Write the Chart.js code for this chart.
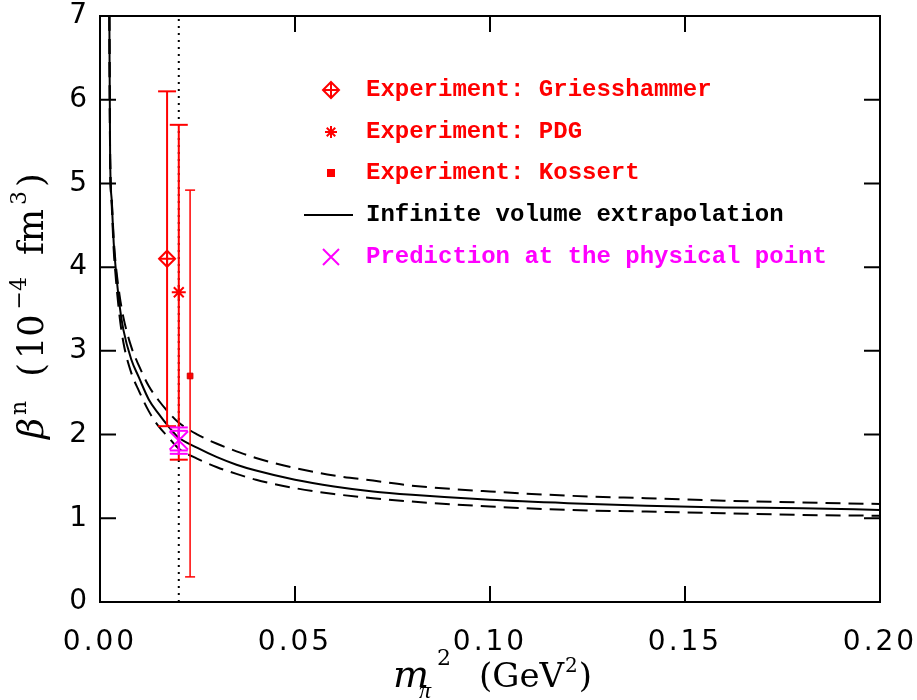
<!DOCTYPE html>
<html>
<head>
<meta charset="utf-8">
<script src="https://cdn.jsdelivr.net/npm/chart.js@4.4.1/dist/chart.umd.min.js"></script>
<style>
  html, body { margin: 0; padding: 0; background: #fff; }
</style>
</head>
<body>
<canvas id="chart" width="917" height="700"></canvas>
<script>
// points along the extrapolation curves, m_pi^2 in GeV^2
const curveX = [0.0024, 0.0026, 0.0030, 0.0035, 0.004, 0.005, 0.006, 0.008, 0.010, 0.0125, 0.015, 0.0175, 0.020,
  0.025, 0.030, 0.035, 0.040, 0.050, 0.060, 0.070, 0.080, 0.100, 0.120, 0.140, 0.160, 0.180, 0.200];
const central = [7.0, 5.3, 4.8, 4.3, 4.0, 3.55, 3.25, 2.9, 2.68, 2.42, 2.25, 2.1, 1.97,
  1.84, 1.73, 1.64, 1.57, 1.46, 1.38, 1.32, 1.28, 1.22, 1.18, 1.15, 1.13, 1.12, 1.10];
const upperBand = [7.0, 5.3, 4.82, 4.35, 4.05, 3.67, 3.4, 3.05, 2.82, 2.58, 2.41, 2.27, 2.15,
  2.0, 1.89, 1.8, 1.72, 1.6, 1.51, 1.45, 1.39, 1.32, 1.27, 1.24, 1.21, 1.19, 1.17];
const lowerBand = [7.0, 5.3, 4.75, 4.22, 3.9, 3.42, 3.1, 2.74, 2.52, 2.28, 2.1, 1.97, 1.84,
  1.71, 1.61, 1.53, 1.46, 1.36, 1.29, 1.24, 1.2, 1.14, 1.1, 1.08, 1.06, 1.04, 1.03];

const physPoint = 0.0202;

// experimental values: position, central value, error range
const expLabels = ['Experiment: Griesshammer', 'Experiment: PDG', 'Experiment: Kossert'];
const expX = [0.0172, 0.0202, 0.0231];
const expY = [4.1, 3.7, 2.7];
const expLo = [2.1, 1.7, 0.3];
const expHi = [6.1, 5.7, 4.92];

// lattice prediction at the physical point (two error ranges)
const predX = 0.0202;
const predY = 1.93;
const predOuter = [1.77, 2.085];
const predInner = [1.81, 2.045];

const fitLabel = 'Infinite volume extrapolation';
const predLabel = 'Prediction at the physical point';

const xTicks = [0, 0.05, 0.10, 0.15, 0.20];
const yTicks = [0, 1, 2, 3, 4, 5, 6, 7];

const RED = '#ff0000';
const MAG = '#ff00ff';

const pts = (xs, ys) => xs.map((x, i) => ({ x: x, y: ys[i] }));

function errBar(x, lo, hi, color, cap, width) {
  return {
    data: [{ x: x, y: lo }, { x: x, y: hi }],
    showLine: true,
    borderColor: color,
    borderWidth: width,
    pointStyle: 'line',
    pointRadius: cap,
    pointBorderColor: color,
    pointBorderWidth: width
  };
}

function curve(ys, dash) {
  return {
    data: pts(curveX, ys),
    showLine: true,
    borderColor: '#000',
    borderWidth: 2,
    borderDash: dash,
    pointRadius: 0,
    cubicInterpolationMode: 'monotone'
  };
}

const datasets = [
  // prediction (on top)
  { data: [{ x: predX, y: predY }], pointStyle: 'crossRot', pointRadius: 13, pointBorderColor: MAG, pointBorderWidth: 2 },
  errBar(predX, predInner[0], predInner[1], MAG, 9, 2),
  errBar(predX, predOuter[0], predOuter[1], MAG, 9, 2),
  // experiments
  { data: [{ x: expX[0], y: expY[0] }], pointStyle: 'cross', pointRadius: 8, pointBorderColor: RED, pointBorderWidth: 2 },
  { data: [{ x: expX[0], y: expY[0] }], pointStyle: 'rectRot', pointRadius: 8, pointBackgroundColor: 'rgba(0,0,0,0)', pointBorderColor: RED, pointBorderWidth: 2 },
  { data: [{ x: expX[1], y: expY[1] }], pointStyle: 'star', pointRadius: 7, pointBorderColor: RED, pointBorderWidth: 2 },
  { data: [{ x: expX[2], y: expY[2] }], pointStyle: 'rect', pointRadius: 4, pointBackgroundColor: RED, pointBorderColor: '#d00000', pointBorderWidth: 1 },
  errBar(expX[0], expLo[0], expHi[0], RED, 9, 2),
  errBar(expX[1], expLo[1], expHi[1], RED, 9, 2),
  errBar(expX[2], expLo[2], expHi[2], RED, 5, 1.5),
  // curves
  curve(central, []),
  curve(upperBand, [15, 8]),
  curve(lowerBand, [15, 8]),
  // physical pion mass
  {
    data: [{ x: physPoint, y: 0 }, { x: physPoint, y: 7 }],
    showLine: true, borderColor: '#000', borderWidth: 2, borderDash: [2, 5], pointRadius: 0
  }
];

// draws parts of a title one after another, centred on (cx, base)
function drawParts(ctx, parts, cx, base) {
  let total = 0;
  parts.forEach(p => { ctx.font = p.font; total += ctx.measureText(p.t).width + (p.gap || 0); });
  let x = cx - total / 2;
  parts.forEach(p => {
    ctx.font = p.font;
    ctx.fillText(p.t, x, base + (p.dy || 0));
    x += ctx.measureText(p.t).width + (p.gap || 0);
  });
}

const SERIF = '"DejaVu Serif"';

// wider spacing for the tick numbers
const spacingPlugin = {
  id: 'spacing',
  beforeDraw(chart) { chart.ctx.letterSpacing = '3px'; },
  afterDatasetsDraw(chart) { chart.ctx.letterSpacing = '0px'; }
};

const framePlugin = {
  id: 'frame',
  afterDraw(chart) {
    const { ctx, chartArea: a, scales } = chart;
    const xs = scales.x, ys = scales.y;
    ctx.save();
    ctx.letterSpacing = '0px';
    ctx.strokeStyle = '#000';
    ctx.lineWidth = 2;
    ctx.strokeRect(a.left, a.top, a.right - a.left, a.bottom - a.top);
    const tl = 16;
    ctx.beginPath();
    xTicks.forEach(v => {
      const px = xs.getPixelForValue(v);
      ctx.moveTo(px, a.bottom); ctx.lineTo(px, a.bottom - tl);
      ctx.moveTo(px, a.top); ctx.lineTo(px, a.top + tl);
    });
    yTicks.forEach(v => {
      const py = ys.getPixelForValue(v);
      ctx.moveTo(a.left, py); ctx.lineTo(a.left + tl, py);
      ctx.moveTo(a.right, py); ctx.lineTo(a.right - tl, py);
    });
    ctx.stroke();

    // x title: m_pi^2 (GeV^2)
    ctx.fillStyle = '#000';
    ctx.textAlign = 'left';
    ctx.textBaseline = 'alphabetic';
    const cx = (a.left + a.right) / 2;
    const x0 = cx - 97;
    const xb = 687;
    ctx.font = 'italic 38px ' + SERIF;
    ctx.fillText('m', x0, xb);
    const mw = ctx.measureText('m').width;
    ctx.font = 'italic 24px "Liberation Serif"';
    ctx.fillText('π', x0 + mw - 10, xb + 11);
    ctx.font = '22px ' + SERIF;
    ctx.fillText('2', x0 + mw + 8, xb - 22);
    ctx.font = '34px ' + SERIF;
    let x1 = x0 + 86;
    ctx.fillText('(GeV', x1, xb);
    x1 += ctx.measureText('(GeV').width + 1;
    ctx.font = '20px ' + SERIF;
    ctx.fillText('2', x1, xb - 15);
    x1 += ctx.measureText('2').width + 1;
    ctx.font = '34px ' + SERIF;
    ctx.fillText(')', x1, xb);

    // y title: beta^n (10^-4 fm^3)
    ctx.save();
    ctx.translate(43, (a.top + a.bottom) / 2 - 3);
    ctx.rotate(-Math.PI / 2);
    drawParts(ctx, [
      { t: 'β', font: 'italic 36px ' + SERIF, gap: 3 },
      { t: 'n', font: '22px ' + SERIF, dy: -17, gap: 24 },
      { t: '(', font: '35px ' + SERIF, gap: 4 },
      { t: '10', font: '35px ' + SERIF, gap: 5 },
      { t: '−4', font: '22px ' + SERIF, dy: -17, gap: 22 },
      { t: 'fm', font: '35px ' + SERIF, gap: 4 },
      { t: '3', font: '22px ' + SERIF, dy: -17, gap: 4 },
      { t: ')', font: '35px ' + SERIF }
    ], 0, 0);
    ctx.restore();

    // legend
    const lx = 331, tx = 366;
    const rowY = [90, 132, 173, 215, 257];
    const labels = expLabels.concat([fitLabel, predLabel]);
    const colors = [RED, RED, RED, '#000', MAG];
    ctx.lineWidth = 2;
    // diamond with plus
    ctx.strokeStyle = RED;
    ctx.beginPath();
    ctx.moveTo(lx, rowY[0] - 8); ctx.lineTo(lx + 8, rowY[0]); ctx.lineTo(lx, rowY[0] + 8); ctx.lineTo(lx - 8, rowY[0]); ctx.closePath();
    ctx.moveTo(lx - 8, rowY[0]); ctx.lineTo(lx + 8, rowY[0]);
    ctx.moveTo(lx, rowY[0] - 8); ctx.lineTo(lx, rowY[0] + 8);
    ctx.stroke();
    // asterisk
    ctx.beginPath();
    for (let k = 0; k < 4; k++) {
      const ang = k * Math.PI / 4;
      ctx.moveTo(lx - 6 * Math.cos(ang), rowY[1] - 6 * Math.sin(ang));
      ctx.lineTo(lx + 6 * Math.cos(ang), rowY[1] + 6 * Math.sin(ang));
    }
    ctx.stroke();
    // square
    ctx.fillStyle = RED;
    ctx.fillRect(lx - 4, rowY[2] - 4, 8, 8);
    // line
    ctx.strokeStyle = '#000';
    ctx.beginPath();
    ctx.moveTo(304, rowY[3]); ctx.lineTo(353, rowY[3]);
    ctx.stroke();
    // cross
    ctx.strokeStyle = MAG;
    ctx.beginPath();
    ctx.moveTo(lx - 8, rowY[4] - 8); ctx.lineTo(lx + 8, rowY[4] + 8);
    ctx.moveTo(lx + 8, rowY[4] - 8); ctx.lineTo(lx - 8, rowY[4] + 8);
    ctx.stroke();

    ctx.font = 'bold 24px "Liberation Mono"';
    ctx.textBaseline = 'middle';
    labels.forEach((t, i) => {
      ctx.fillStyle = colors[i];
      ctx.fillText(t, tx, rowY[i]);
    });
    ctx.restore();
  }
};

function noPad(s) {
  s.paddingLeft = 0; s.paddingRight = 0; s.paddingTop = 0; s.paddingBottom = 0;
}

new Chart(document.getElementById('chart'), {
  type: 'scatter',
  data: { datasets: datasets },
  options: {
    responsive: false,
    animation: false,
    devicePixelRatio: 1,
    layout: { padding: { left: 0, top: 16, right: 37, bottom: 0 } },
    plugins: { legend: { display: false }, tooltip: { enabled: false } },
    scales: {
      x: {
        type: 'linear', min: 0, max: 0.2,
        grid: { display: false, drawTicks: false },
        border: { display: false },
        afterBuildTicks: s => { s.ticks = xTicks.map(v => ({ value: v })); },
        afterFit: s => { s.height = 98; noPad(s); },
        ticks: {
          padding: 24, color: '#000', maxRotation: 0,
          font: { family: 'DejaVu Sans', size: 28 },
          callback: v => v.toFixed(2)
        }
      },
      y: {
        type: 'linear', min: 0, max: 7,
        grid: { display: false, drawTicks: false },
        border: { display: false },
        afterBuildTicks: s => { s.ticks = yTicks.map(v => ({ value: v })); },
        afterFit: s => { s.width = 100; noPad(s); },
        ticks: {
          padding: 10, color: '#000',
          font: { family: 'DejaVu Sans', size: 28 },
          callback: v => String(v)
        }
      }
    }
  },
  plugins: [spacingPlugin, framePlugin]
});
</script>
</body>
</html>
